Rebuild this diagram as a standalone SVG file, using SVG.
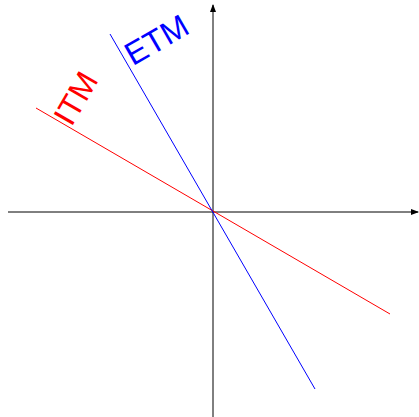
<svg xmlns="http://www.w3.org/2000/svg" width="419" height="417" viewBox="0 0 419 417">
<defs>
<marker id="arr" markerWidth="8" markerHeight="6" refX="7" refY="3" orient="auto" markerUnits="userSpaceOnUse">
<path d="M0,0 L8,3 L0,6 Z" fill="#000"/>
</marker>
<style>
.axis{stroke:#000;stroke-width:1;fill:none}
.lbl{font-family:"Liberation Sans",Arial,sans-serif;font-size:32px}
</style>
</defs>
<g id="connectors">
<line class="axis" x1="8" y1="212" x2="418" y2="212" marker-end="url(#arr)"/>
<line class="axis" x1="213" y1="417" x2="213" y2="5" marker-end="url(#arr)"/>
<line x1="36" y1="108" x2="390" y2="314" stroke="#ff0000" stroke-width="1"/>
<line x1="110" y1="34" x2="315" y2="389" stroke="#0000ff" stroke-width="1"/>
</g>
<g id="itm"><text class="lbl" fill="#ff0000" transform="translate(71.5,127.6) rotate(-60)">ITM</text></g>
<g id="etm"><text class="lbl" fill="#0000ff" transform="translate(132.8,66.3) rotate(-30)">ETM</text></g>
</svg>
